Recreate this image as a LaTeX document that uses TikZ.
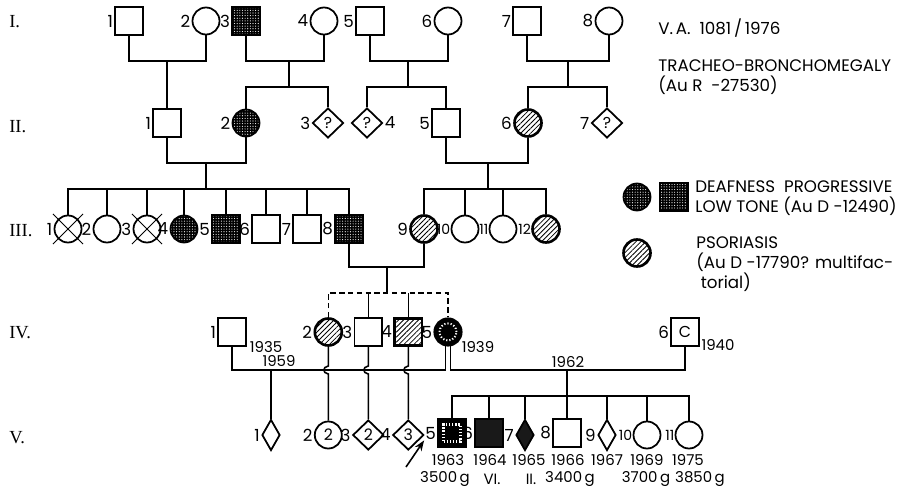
\documentclass[tikz,border=0pt]{standalone}
\usepackage{fontspec}
\setmainfont{Poppins}
\newfontfamily\genfont{Liberation Serif}
\usetikzlibrary{shapes.geometric,shapes.misc,patterns.meta,arrows.meta}

\tikzset{
  ind/.style={draw, line width=1pt, inner sep=0pt, font=\fontsize{9}{9}\selectfont},
  male/.style={ind, rectangle, minimum size=0.55cm},
  female/.style={ind, circle, minimum size=0.54cm},
  unk/.style={ind, diamond, minimum width=0.62cm, minimum height=0.6cm},
  unkn/.style={ind, diamond, minimum width=0.36cm, minimum height=0.62cm},
  deaf/.style={preaction={fill=black}, pattern={Dots[radius=0.32pt,distance=1.5pt]}, pattern color=white},
  psor/.style={pattern={Lines[angle=45,distance=2pt,line width=0.45pt]}, line width=1.5pt},
  dead/.style={cross out, draw, line width=0.6pt, minimum size=0.58cm, inner sep=0pt},
  num/.style={font=\fontsize{9.5}{9.5}\selectfont, inner sep=0.6pt},
  numb/.style={font=\fontsize{8}{8}\selectfont, inner sep=0pt},
  yr/.style={font=\fontsize{8.5}{8.5}\selectfont, inner sep=0pt},
  txt/.style={font=\fontsize{9.5}{11.5}\selectfont, anchor=west, align=left, inner sep=0pt},
  gen/.style={font=\genfont\fontsize{10.5}{10.5}\selectfont, anchor=west, inner sep=0pt},
  line/.style={line width=0.9pt},
}

\begin{document}
\begin{tikzpicture}[x=0.02cm, y=-0.02cm]
  \useasboundingbox (0,0) rectangle (910,490);

  % generace
  \node[gen] (g1) at (9,22) {I.};
  \node[gen] (g2) at (9,127) {II.};
  \node[gen] (g3) at (9,231) {III.};
  \node[gen] (g4) at (9,333) {IV.};
  \node[gen] (g5) at (9,438) {V.};

  % generace I
  \node[male, label={[num]left:1}] (I1) at (129,21) {};
  \node[female, label={[num]left:2}] (I2) at (206,21) {};
  \node[male, deaf, label={[num]left:3}] (I3) at (246,21) {};
  \node[female, label={[num]left:4}] (I4) at (324,21) {};
  \node[male, label={[num]left:5}] (I5) at (370,21) {};
  \node[female, label={[num]left:6}] (I6) at (448,21) {};
  \node[male, label={[num]left:7}] (I7) at (527,21) {};
  \node[female, label={[num]left:8}] (I8) at (609,21) {};

  \coordinate (m1) at (167,61);
  \coordinate (m2) at (289,61);
  \coordinate (m3) at (408,61);
  \coordinate (m4) at (568,61);
  \draw[line] (I1.south) |- (m1) -| (I2.south);
  \draw[line] (I3.south) |- (m2) -| (I4.south);
  \draw[line] (I5.south) |- (m3) -| (I6.south);
  \draw[line] (I7.south) |- (m4) -| (I8.south);

  % generace II
  \node[male, label={[num]left:1}] (II1) at (167,123) {};
  \node[female, deaf, label={[num]left:2}] (II2) at (246,123) {};
  \node[unk, label={[num]left:3}] (II3) at (328,123) {?};
  \node[unk, label={[num]right:4}] (II4) at (367,123) {?};
  \node[male, label={[num]left:5}] (II5) at (446,123) {};
  \node[female, psor, label={[num]left:6}] (II6) at (528,123) {};
  \node[unk, label={[num]left:7}] (II7) at (607,123) {?};

  \coordinate (s2) at (289,87);
  \coordinate (s3) at (408,87);
  \coordinate (s4) at (568,87);
  \draw[line] (m1) -- (II1.north);
  \draw[line] (m2) -- (s2);
  \draw[line] (II2.north) |- (s2) -| (II3.north);
  \draw[line] (m3) -- (s3);
  \draw[line] (II4.north) |- (s3) -| (II5.north);
  \draw[line] (m4) -- (s4);
  \draw[line] (II6.north) |- (s4) -| (II7.north);

  \coordinate (m5) at (206,163);
  \coordinate (m6) at (488,163);
  \draw[line] (II1.south) |- (m5) -| (II2.south);
  \draw[line] (II5.south) |- (m6) -| (II6.south);

  % generace III
  \node[female, label={[num]left:1}] (III1) at (68,229) {};
  \node[dead] (III1x) at (III1) {};
  \node[female, label={[num]left:2}] (III2) at (107,229) {};
  \node[female, label={[num]left:3}] (III3) at (147,229) {};
  \node[dead] (III3x) at (III3) {};
  \node[female, deaf, label={[num]left:4}] (III4) at (184,229) {};
  \node[male, deaf, label={[num]left:5}] (III5) at (226,229) {};
  \node[male, label={[num]left:6}] (III6) at (266,229) {};
  \node[male, label={[num]left:7}] (III7) at (307,229) {};
  \node[male, deaf, label={[num]left:8}] (III8) at (349,229) {};
  \node[female, psor, label={[num]left:9}] (III9) at (424,229) {};
  \node[female, label={[numb]left:10}] (III10) at (465,229) {};
  \node[female, label={[numb]left:11}] (III11) at (503,229) {};
  \node[female, psor, label={[numb]left:12}] (III12) at (546,229) {};

  \coordinate (s5) at (206,189);
  \coordinate (s6) at (488,189);
  \draw[line] (m5) -- (s5);
  \draw[line] (III1.north) |- (s5) -| (III8.north);
  \draw[line] (III2.north) -- (III2.north |- s5);
  \draw[line] (III3.north) -- (III3.north |- s5);
  \draw[line] (III4.north) -- (III4.north |- s5);
  \draw[line] (III5.north) -- (III5.north |- s5);
  \draw[line] (III6.north) -- (III6.north |- s5);
  \draw[line] (III7.north) -- (III7.north |- s5);
  \draw[line] (m6) -- (s6);
  \draw[line] (III9.north) |- (s6) -| (III12.north);
  \draw[line] (III10.north) -- (III10.north |- s6);
  \draw[line] (III11.north) -- (III11.north |- s6);

  \coordinate (m7) at (387,267);
  \coordinate (s7) at (387,293);
  \draw[line] (III8.south) |- (m7) -| (III9.south);
  \draw[line] (m7) -- (s7);

  % generace IV
  \node[male, label={[num]left:1}] (IV1) at (232,332) {};
  \node[female, psor, label={[num]left:2}] (IV2) at (328.3,332) {};
  \node[male, label={[num]left:3}] (IV3) at (368.3,332) {};
  \node[male, psor, label={[num]left:4}] (IV4) at (408.3,332) {};
  \node[female, fill=black, line width=1.2pt, label={[num]left:5}] (IV5) at (448,332) {};
  \node[circle, draw=white, line width=1.1pt, dash pattern=on 0.7pt off 1.1pt, minimum size=0.34cm, inner sep=0pt] (IV5i) at (IV5) {};
  \node[male, label={[num]left:6}] (IV6) at (685,332) {C};

  \draw[line, dash pattern=on 3pt off 2pt] (IV2.north) |- (s7) -| (IV5.north);
  \draw[line] (IV3.north) -- (IV3.north |- s7);
  \draw[line] (IV4.north) -- (IV4.north |- s7);

  \node[yr] (y1935) at (266,347) {1935};
  \node[yr] (y1959) at (279,361) {1959};
  \node[yr] (y1939) at (478,347) {1939};
  \node[yr] (y1962) at (568,362) {1962};
  \node[yr] (y1940) at (718,345) {1940};

  \coordinate (m8) at (271,370);
  \coordinate (m9) at (567,370);
  \coordinate (h1) at (0,366);
  \draw[line] (IV1.south) |- (m8) -| (IV5.260);
  \draw[line] (IV5.280) |- (m9) -| (IV6.south);

  % generace V
  \node[unkn, label={[num]left:1}] (V1) at (271,435) {};
  \node[female, label={[num]left:2}] (V2) at (328.3,435) {2};
  \node[unk, label={[num]left:3}] (V3) at (368.3,435) {2};
  \node[unk, label={[num]left:4}] (V4) at (408.3,435) {3};
  \node[male, fill=black, label={[num, name=V5n]left:5}] (V5) at (452,433) {};
  \node[rectangle, draw=white, line width=1.2pt, dash pattern=on 0.7pt off 1.1pt, minimum size=0.34cm, inner sep=0pt] (V5i) at (V5) {};
  \node[male, fill=black!90, label={[num]left:6}] (V6) at (489,433) {};
  \node[unkn, fill=black!90, label={[num]left:7}] (V7) at (525,435) {};
  \node[male, label={[num]left:8}] (V8) at (567,433) {};
  \node[unkn, label={[num]left:9}] (V9) at (607,435) {};
  \node[female, label={[numb]left:10}] (V10) at (647,435) {};
  \node[female, label={[numb]left:11}] (V11) at (689,435) {};

  \draw[line] (m8) -- (V1.north);
  \draw[line] (IV2.south) -- (IV2.south |- h1) .. controls +(-6,1) and +(-6,-1) .. ++(0,8) -- (V2.north);
  \draw[line] (IV3.south) -- (IV3.south |- h1) .. controls +(-6,1) and +(-6,-1) .. ++(0,8) -- (V3.north);
  \draw[line] (IV4.south) -- (IV4.south |- h1) .. controls +(-6,1) and +(-6,-1) .. ++(0,8) -- (V4.north);

  \coordinate (s9) at (567,396);
  \draw[line] (m9) -- (V8.north);
  \draw[line] (V5.north) |- (s9) -| (V11.north);
  \draw[line] (V6.north) -- (V6.north |- s9);
  \draw[line] (V7.north) -- (V7.north |- s9);
  \draw[line] (V9.north) -- (V9.north |- s9);
  \draw[line] (V10.north) -- (V10.north |- s9);

  % probandka
  \coordinate (pb) at (406,467);
  \draw[line, -{Stealth[length=6pt,width=4.5pt]}] (pb) -- (V5n.south west);

  \node[yr] (r1963) at (448,460) {1963};
  \node[yr] (r1964) at (490,460) {1964};
  \node[yr] (r1965) at (529,460) {1965};
  \node[yr] (r1966) at (568,460) {1966};
  \node[yr] (r1967) at (607,460) {1967};
  \node[yr] (r1969) at (647,460) {1969};
  \node[yr] (r1975) at (688,460) {1975};
  \node[yr] (w1) at (445,479) {3500\,g};
  \node[yr] (w2) at (492,479) {VI.};
  \node[yr] (w3) at (531,479) {II.};
  \node[yr] (w4) at (570,479) {3400\,g};
  \node[yr] (w5) at (646,479) {3700\,g};
  \node[yr] (w6) at (700,479) {3850\,g};

  % legenda
  \node[txt] (t1) at (658,28) {V.\,A.\ \ 1081\,/\,1976};
  \node[txt] (t2) at (658,77) {TRACHEO-BRONCHOMEGALY\\(Au R \ -27530)};
  \node[female, deaf] (Ld1) at (637,197) {};
  \node[male, deaf] (Ld2) at (674,197) {};
  \node[txt] (t3) at (695,198) {DEAFNESS \ PROGRESSIVE\\LOW TONE (Au D -12490)};
  \node[female, psor] (Lp) at (637,253) {};
  \node[txt] (t4) at (696,264) {PSORIASIS\\(Au D -17790? multifac-\\\ torial)};
\end{tikzpicture}
\end{document}
